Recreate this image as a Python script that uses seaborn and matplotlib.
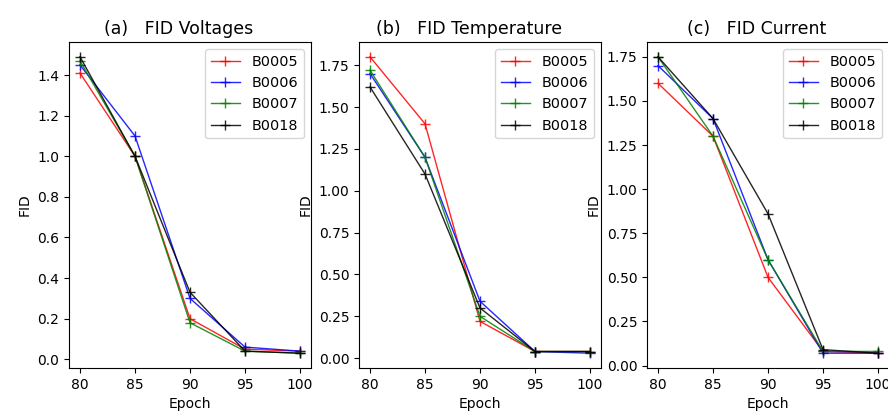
"""
三个子图：不同电池在各 Epoch 下的 FID 曲线（电压 / 温度 / 电流）
"""
import pandas as pd
import matplotlib
matplotlib.use('Agg')
import matplotlib.pyplot as plt
import seaborn as sns

epochs = [80, 85, 90, 95, 100]
batteries = ['B0005', 'B0006', 'B0007', 'B0018']
colors = ['red', 'blue', 'green', 'black']

# (a) 电压
fid_voltage = {
    'B0005': [1.41, 1.00, 0.20, 0.05, 0.04],
    'B0006': [1.45, 1.10, 0.30, 0.06, 0.04],
    'B0007': [1.47, 1.00, 0.18, 0.04, 0.03],
    'B0018': [1.49, 1.00, 0.33, 0.04, 0.03],
}
# (b) 温度
fid_temperature = {
    'B0005': [1.80, 1.40, 0.22, 0.04, 0.04],
    'B0006': [1.70, 1.20, 0.34, 0.04, 0.03],
    'B0007': [1.72, 1.20, 0.25, 0.04, 0.04],
    'B0018': [1.62, 1.10, 0.30, 0.04, 0.04],
}
# (c) 电流
fid_current = {
    'B0005': [1.60, 1.30, 0.50, 0.08, 0.07],
    'B0006': [1.70, 1.40, 0.60, 0.07, 0.07],
    'B0007': [1.75, 1.30, 0.60, 0.08, 0.08],
    'B0018': [1.75, 1.40, 0.86, 0.09, 0.07],
}

# 标题后面带空格，原图标题略微偏左
titles = ['(a)   FID Voltages    ', '(b)   FID Temperature    ', '(c)   FID Current    ']


def to_long(fid):
    rows = []
    for b in batteries:
        for e, v in zip(epochs, fid[b]):
            rows.append({'Epoch': e, 'FID': v, 'Battery': b})
    return pd.DataFrame(rows)


fig = plt.figure(figsize=(8.88, 4.12), dpi=100)
lefts = [69, 359, 647]
for left, fid, title in zip(lefts, [fid_voltage, fid_temperature, fid_current], titles):
    ax = fig.add_axes([left / 888, 44 / 412, 242 / 888, 326 / 412])
    df = to_long(fid)
    sns.lineplot(data=df, x='Epoch', y='FID', hue='Battery', palette=colors,
                 marker='+', markersize=7, linewidth=1, alpha=0.85,
                 legend=False, ax=ax)
    for line, c in zip(ax.lines, colors):
        line.set_markeredgecolor(c)
        line.set_markeredgewidth(1)
    ax.set_xticks(epochs)
    ax.set_title(title, fontsize=12.5)
    ax.set_xlabel('Epoch')
    ax.set_ylabel('FID')
    ax.legend(ax.lines, batteries, loc='upper right', fontsize=10.4)

fig.savefig('out.png', dpi=100)
